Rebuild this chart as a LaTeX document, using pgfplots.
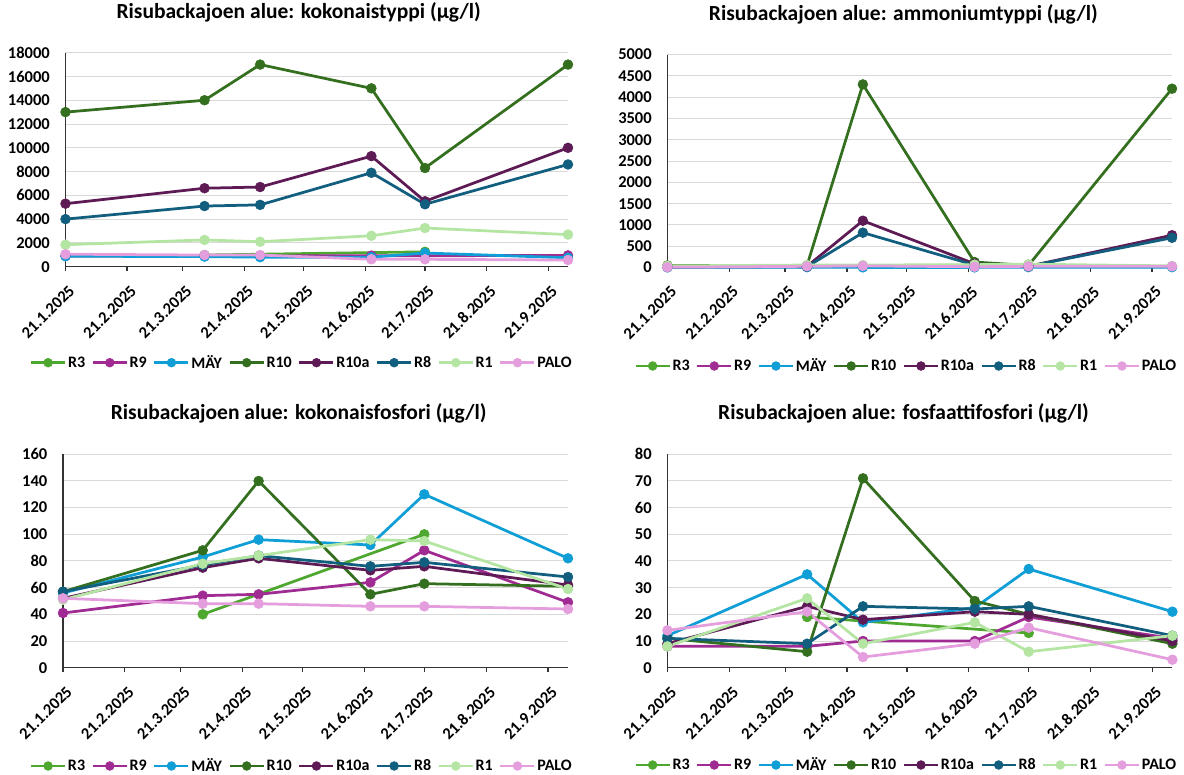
\documentclass[border=0pt]{standalone}
\usepackage{fontspec}
\setmainfont{Carlito}
\usepackage{pgfplots}
\usepackage{pgfplotstable}
\pgfplotsset{compat=1.18}

\definecolor{cR3}{HTML}{4EA72E}
\definecolor{cR9}{HTML}{A02B93}
\definecolor{cMAY}{HTML}{0F9ED5}
\definecolor{cR10}{HTML}{346F1F}
\definecolor{cR10a}{HTML}{5E1A55}
\definecolor{cR8}{HTML}{125E7E}
\definecolor{cR1}{HTML}{B4E5A2}
\definecolor{cPALO}{HTML}{E59EDD}

\newcommand{\tickfont}{\bfseries\fontsize{16.5}{16.5}\selectfont}
\newcommand{\legfont}{\bfseries\fontsize{16}{16}\selectfont}
\newcommand{\titlefont}{\bfseries\fontsize{21.5}{24}\selectfont}

% days counted from 21.1.2025
\pgfplotstableread{
day R3   R9  MAY  R10   R10a  R8   R1   PALO
0   nan  900 880  13000 5300  4000 1850 1050
70  980  900 850  14000 6600  5100 2250 980
98  nan  900 800  17000 6700  5200 2100 980
154 nan  930 800  15000 9300  7900 2600 620
181 1250 920 1150 8300  5500  5250 3250 620
253 nan  950 750  17000 10000 8600 2700 560
}\kokN

\pgfplotstableread{
day R3  R9 MAY R10  R10a R8  R1 PALO
0   nan 10 5   50   20   20  40 10
70  40  20 10  50   30   20  60 30
98  nan 20 5   4300 1100 820 60 40
154 nan 20 5   130  90   60  70 20
181 60  20 10  50   30   30  80 30
253 nan 20 10  4200 760  700 40 30
}\ammN

\pgfplotstableread{
day R3  R9 MAY R10 R10a R8 R1 PALO
0   nan 41 56  57  52   57 51 52
70  40  54 83  88  75   77 78 48
98  nan 55 96  140 82   84 84 48
154 nan 64 92  55  73   76 96 46
181 100 88 130 63  76   79 95 46
253 nan 49 82  61  62   68 59 44
}\kokP

\pgfplotstableread{
day R3  R9 MAY  R10 R10a R8 R1 PALO
0   nan 8  12   11  9    11 8  14
70  19  8  35   6   23   9  26 21
98  nan 10 17   71  18   23 9  4
154 nan 10 22.5 25  21   22 17 9
181 13  19 37   20  20   23 6  15
253 nan 11 21   9   10   12 12 3
}\fosP

\pgfplotsset{
  ser/.style={color=#1, mark=*, line width=2.75pt, line join=round,
    mark size=4.9pt, mark options={solid, line width=0.6pt}},
  chart/.style={
    scale only axis, anchor=south west, clip=false,
    xmin=0, xmax=253, ymin=0, enlargelimits=false,
    axis x line=bottom, axis y line=left,
    axis line style={-, draw=black!80, line width=1.2pt},
    xtick={0,31,59,90,120,151,181,212,243},
    xticklabels={21.1.2025,21.2.2025,21.3.2025,21.4.2025,21.5.2025,21.6.2025,21.7.2025,21.8.2025,21.9.2025},
    tick align=outside, major tick length=4.5pt,
    xtick style={draw=black!80, line width=1.2pt},
    ytick style={draw=none},
    ymajorgrids, major grid style={draw=black!15, line width=1pt},
    tick label style={font=\tickfont},
    xticklabel style={xshift=6.5pt, yshift=-17pt, rotate=45, anchor=east, inner sep=0pt},
    yticklabel style={anchor=east, inner sep=0pt, xshift=-11pt,
      /pgf/number format/fixed, /pgf/number format/1000 sep={},
      /pgf/number format/assume math mode=true},
    scaled y ticks=false,
    title style={font=\titlefont, anchor=center, inner sep=0pt},
    legend columns=8,
    legend style={draw=none, fill=none, anchor=center, font=\legfont, inner sep=0pt,
      nodes={inner sep=1.5pt},
      /tikz/every even column/.append style={column sep=4.8pt}},
    legend image code/.code={\draw[mark repeat=2, mark phase=2, #1, mark size=4.4pt]
      plot coordinates {(0pt,0pt) (17pt,0pt) (34pt,0pt)};},
  },
}

\newcommand{\allseries}[1]{%
  \addplot[ser=cR3] table[x=day, y=R3]{#1}; \addlegendentry{R3}
  \addplot[ser=cR9] table[x=day, y=R9]{#1}; \addlegendentry{R9}
  \addplot[ser=cMAY] table[x=day, y=MAY]{#1}; \addlegendentry{MÄY}
  \addplot[ser=cR10] table[x=day, y=R10]{#1}; \addlegendentry{R10}
  \addplot[ser=cR10a] table[x=day, y=R10a]{#1}; \addlegendentry{R10a}
  \addplot[ser=cR8] table[x=day, y=R8]{#1}; \addlegendentry{R8}
  \addplot[ser=cR1] table[x=day, y=R1]{#1}; \addlegendentry{R1}
  \addplot[ser=cPALO] table[x=day, y=PALO]{#1}; \addlegendentry{PALO}
}

\begin{document}
\begin{tikzpicture}
\useasboundingbox (0,0) rectangle (1184pt,775pt);

\begin{axis}[chart, at={(65.5pt,508.3pt)}, width=502.5pt, height=214pt,
  ymax=18000, ytick={0,2000,...,18000},
  title={Risubackajoen alue: kokonaistyppi (µg/l)},
  title style={at={(0.464,1.1607)}},
  legend style={at={(0.4697,-0.4486)}}]
\allseries{\kokN}
\end{axis}

\begin{axis}[chart, at={(667.4pt,507.4pt)}, width=504.6pt, height=213pt,
  ymax=5000, ytick={0,500,...,5000},
  title={Risubackajoen alue: ammoniumtyppi (µg/l)},
  title style={at={(0.4675,1.159)}},
  legend style={at={(0.4729,-0.462)}}]
\allseries{\ammN}
\end{axis}

\begin{axis}[chart, at={(63pt,107.3pt)}, width=505pt, height=213.4pt,
  ymax=160, ytick={0,20,...,160},
  title={Risubackajoen alue: kokonaisfosfori (µg/l)},
  title style={at={(0.4667,1.164)}},
  legend style={at={(0.4723,-0.4606)}}]
\allseries{\kokP}
\end{axis}

\begin{axis}[chart, at={(667.4pt,107.3pt)}, width=505pt, height=213.4pt,
  ymax=80, ytick={0,10,...,80},
  title={Risubackajoen alue: fosfaattifosfori (µg/l)},
  title style={at={(0.4675,1.164)}},
  legend style={at={(0.4725,-0.456)}}]
\allseries{\fosP}
\end{axis}
\end{tikzpicture}
\end{document}
